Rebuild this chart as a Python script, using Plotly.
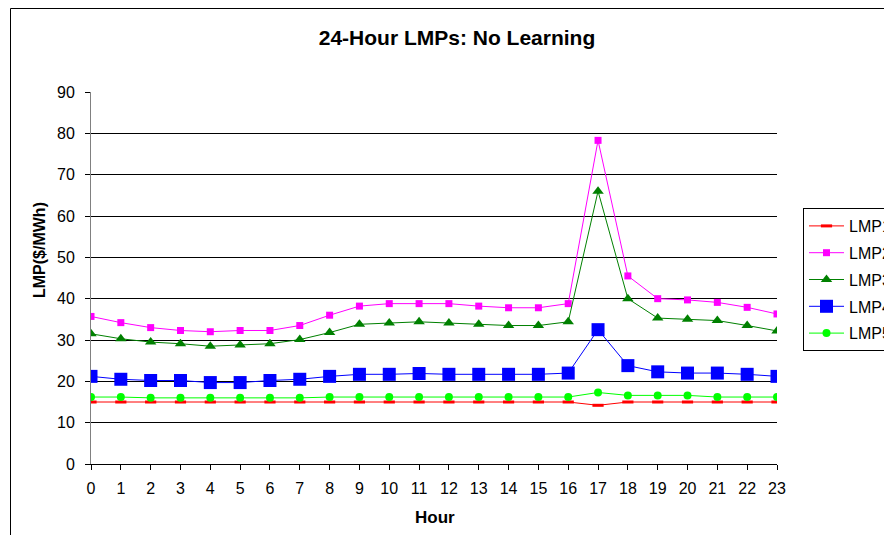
import plotly.graph_objects as go

hours = list(range(24))
lmp1 = [15.0, 15.0, 15.0, 15.0, 15.0, 15.0, 15.0, 15.0, 15.0, 15.0, 15.0, 15.0,
        15.0, 15.0, 15.0, 15.0, 15.0, 14.2, 15.0, 15.0, 15.0, 15.0, 15.0, 15.0]
lmp2 = [35.7, 34.2, 33.0, 32.3, 32.0, 32.3, 32.3, 33.5, 36.0, 38.2, 38.8, 38.8,
        38.8, 38.2, 37.8, 37.8, 38.8, 78.3, 45.5, 40.0, 39.7, 39.1, 37.9, 36.3]
lmp3 = [31.5, 30.3, 29.5, 29.1, 28.5, 28.8, 29.1, 30.1, 31.8, 33.8, 34.1, 34.4,
        34.1, 33.8, 33.5, 33.5, 34.4, 66.0, 40.0, 35.3, 35.0, 34.7, 33.5, 32.2]
lmp4 = [21.2, 20.5, 20.2, 20.2, 19.7, 19.7, 20.2, 20.5, 21.2, 21.7, 21.7, 21.9,
        21.7, 21.7, 21.7, 21.7, 22.0, 32.5, 23.8, 22.3, 22.0, 22.0, 21.7, 21.2]
lmp5 = [16.2, 16.2, 16.0, 16.0, 16.0, 16.0, 16.0, 16.0, 16.2, 16.2, 16.2, 16.2,
        16.2, 16.2, 16.2, 16.2, 16.2, 17.3, 16.6, 16.6, 16.6, 16.2, 16.2, 16.2]
y_ticks = list(range(0, 91, 10))

series = [
    ("LMP1", lmp1, "#FF0000", "line-ew", 8, 3),
    ("LMP2", lmp2, "#FF00FF", "square", 7, 0),
    ("LMP3", lmp3, "#008000", "triangle-up", 10, 0),
    ("LMP4", lmp4, "#0000FF", "square", 13, 0),
    ("LMP5", lmp5, "#00FF00", "circle", 8, 0),
]

# page body adds an 8px margin on each side; figure sized so no scrollbars appear
OFF = 8
W, H = 892 - OFF, 543 - 2 * OFF
L, T = 91 - OFF, 92 - OFF
R, B = W - (777 - OFF), H - (464 - OFF)
PW, PH = W - L - R, H - T - B


def px(sx):
    return (sx - OFF - L) / PW


def py(sy):
    return (H - B - (sy - OFF)) / PH


fig = go.Figure()
for name, vals, color, sym, size, lw in series:
    fig.add_trace(go.Scatter(
        x=hours, y=vals, name=name, mode="lines+markers", legendgroup=name,
        line=dict(color=color, width=1),
        marker=dict(symbol=sym, size=size, color=color,
                    line=dict(color=color, width=lw)),
    ))

fig.update_layout(
    width=W, height=H,
    margin=dict(l=L, r=R, t=T, b=B),
    paper_bgcolor="white", plot_bgcolor="white",
    font=dict(family="Arial, Liberation Sans, sans-serif", size=16, color="black"),
    title=dict(text="<b>24-Hour LMPs: No Learning</b>", xref="container",
               x=(457 - OFF) / W, xanchor="center", yref="container",
               y=1 - (38 - OFF) / H, yanchor="middle", font=dict(size=21)),
    showlegend=True,
    legend=dict(xref="container", yref="container",
                x=(803 - OFF) / W, xanchor="left", y=1 - (208 - OFF) / H,
                yanchor="top", bordercolor="black", borderwidth=1,
                bgcolor="white", font=dict(size=16), tracegroupgap=3,
                itemwidth=35),
    xaxis=dict(
        range=[0, 23], tickvals=hours, ticktext=[str(h) for h in hours],
        showgrid=False, zeroline=False, showline=True, linecolor="black",
        linewidth=1, ticks="outside", ticklen=5, tickcolor="black",
        tickfont=dict(size=16), ticklabelstandoff=5,
    ),
    yaxis=dict(
        range=[0, 90], tickvals=y_ticks, showgrid=True, gridcolor="black",
        gridwidth=1, zeroline=False, showline=True, linecolor="#808080",
        linewidth=1, ticks="outside", ticklen=5, tickcolor="black",
        tickfont=dict(size=16), ticklabelstandoff=7,
    ),
    annotations=[
        dict(text="<b>Hour</b>", xref="paper", yref="paper", x=px(435),
             y=py(517), xanchor="center", yanchor="middle", showarrow=False,
             font=dict(size=17)),
        dict(text="<b>LMP($/MWh)</b>", xref="paper", yref="paper", x=px(40),
             y=py(250), xanchor="center", yanchor="middle", showarrow=False,
             textangle=-90, font=dict(size=16)),
    ],
    shapes=[dict(type="rect", xref="paper", yref="paper",
                 x0=px(10.5), x1=1.5, y0=-0.5, y1=py(8.5),
                 line=dict(color="black", width=1), fillcolor="rgba(0,0,0,0)",
                 layer="below")],
)

fig.write_html("out.html")
